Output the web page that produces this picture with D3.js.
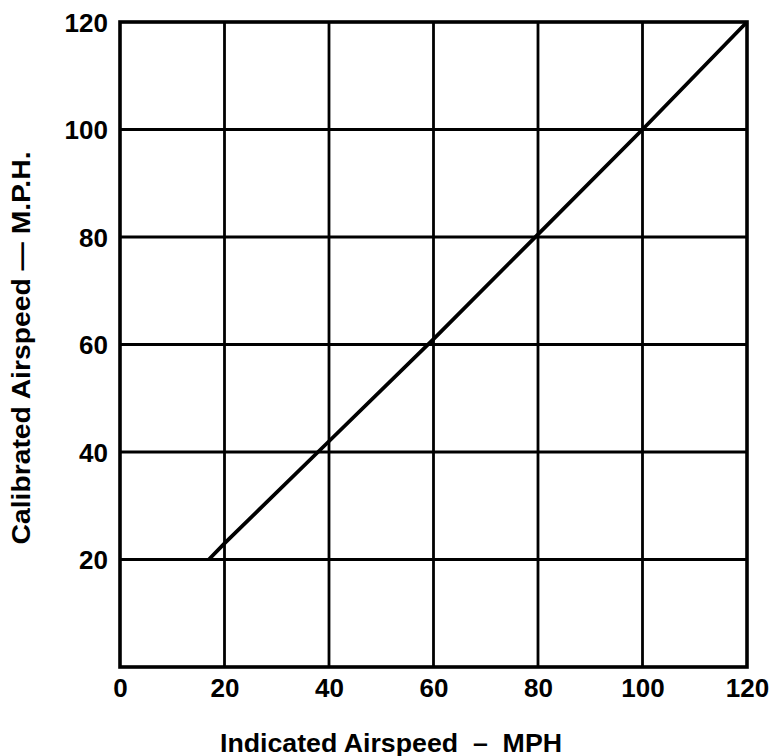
<!DOCTYPE html>
<html>
<head>
<meta charset="utf-8">
<script src="https://cdn.jsdelivr.net/npm/d3@7"></script>
<style>
  body { margin: 0; background: #fff; }
  svg { display: block; }
  text { font-family: "Liberation Sans", Arial, sans-serif; font-weight: bold; fill: #000; }
</style>
</head>
<body>
<div id="chart"></div>
<script>
// calibration curve: indicated vs calibrated airspeed (mph)
const indicated = [17, 20, 40, 60, 80, 100, 120];
const calibrated = [20, 23, 42, 61, 80.5, 100, 120];
const xTicks = [0, 20, 40, 60, 80, 100, 120];
const yTicks = [20, 40, 60, 80, 100, 120];
const xTitle = "Indicated Airspeed  \u2013  MPH";
const yTitle = "Calibrated Airspeed \u2014 M.P.H.";

const width = 774, height = 756;
const margin = { top: 22, right: 27, bottom: 89, left: 120 };
const innerW = width - margin.left - margin.right;
const innerH = height - margin.top - margin.bottom;

const svg = d3.select("#chart").append("svg")
  .attr("width", width)
  .attr("height", height);

const g = svg.append("g")
  .attr("transform", `translate(${margin.left},${margin.top})`);

const x = d3.scaleLinear().domain([0, 120]).range([0, innerW]);
const y = d3.scaleLinear().domain([0, 120]).range([innerH, 0]);

// grid
g.append("g")
  .selectAll("line")
  .data(xTicks.filter((d) => d > 0 && d < 120))
  .join("line")
  .attr("x1", (d) => x(d)).attr("x2", (d) => x(d))
  .attr("y1", 0).attr("y2", innerH)
  .attr("stroke", "#000").attr("stroke-width", 2.8);

g.append("g")
  .selectAll("line")
  .data(yTicks.filter((d) => d < 120))
  .join("line")
  .attr("x1", 0).attr("x2", innerW)
  .attr("y1", (d) => y(d)).attr("y2", (d) => y(d))
  .attr("stroke", "#000").attr("stroke-width", 2.8);

// frame
g.append("rect")
  .attr("width", innerW).attr("height", innerH)
  .attr("fill", "none").attr("stroke", "#000").attr("stroke-width", 3.6);

// axes (labels only)
const xAxis = g.append("g")
  .attr("transform", `translate(0,${innerH})`)
  .call(d3.axisBottom(x).tickValues(xTicks).tickSize(0).tickPadding(12));
xAxis.select(".domain").remove();
xAxis.selectAll("text").style("font-size", "26px").attr("dy", "0.71em");

const yAxis = g.append("g")
  .call(d3.axisLeft(y).tickValues(yTicks).tickSize(0).tickPadding(12));
yAxis.select(".domain").remove();
yAxis.selectAll("text").style("font-size", "26px").attr("dy", "0.36em");

// calibration line
const line = d3.line().x((d) => x(d[0])).y((d) => y(d[1]));
g.append("path")
  .datum(d3.zip(indicated, calibrated))
  .attr("d", line)
  .attr("fill", "none")
  .attr("stroke", "#000")
  .attr("stroke-width", 3.8);

// titles
svg.append("text")
  .attr("x", 391).attr("y", 752)
  .attr("text-anchor", "middle")
  .style("font-size", "25px")
  .style("white-space", "pre")
  .attr("textLength", 342)
  .attr("lengthAdjust", "spacingAndGlyphs")
  .text(xTitle);

svg.append("text")
  .attr("transform", "translate(30,348) rotate(-90)")
  .attr("text-anchor", "middle")
  .style("font-size", "26px")
  .attr("textLength", 393)
  .attr("lengthAdjust", "spacingAndGlyphs")
  .text(yTitle);
</script>
</body>
</html>
